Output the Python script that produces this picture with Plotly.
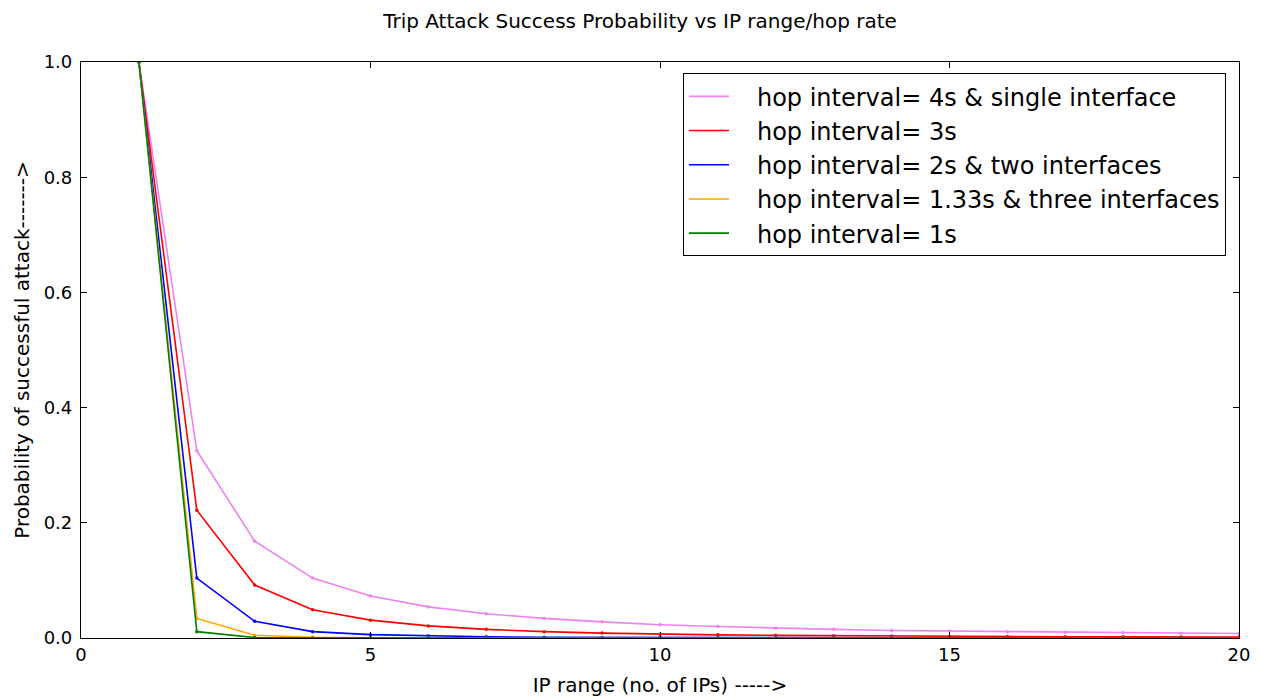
import plotly.graph_objects as go

ip_range = list(range(1, 21))

series_names = [
    "hop interval= 4s & single interface",
    "hop interval= 3s",
    "hop interval= 2s & two interfaces",
    "hop interval= 1.33s & three interfaces",
    "hop interval= 1s",
]
series_colors = ["#EE82EE", "#FF0000", "#0000FF", "#FFA500", "#008000"]

prob_4s = [1.0, 0.325, 0.168, 0.104, 0.073, 0.054, 0.042, 0.034, 0.028, 0.023,
           0.020, 0.017, 0.015, 0.013, 0.012, 0.011, 0.0098, 0.0090, 0.0083, 0.0077]
prob_3s = [1.0, 0.222, 0.092, 0.049, 0.031, 0.021, 0.015, 0.011, 0.0085, 0.0067,
           0.0055, 0.0046, 0.0039, 0.0033, 0.0029, 0.0026, 0.0023, 0.0020, 0.0018, 0.0016]
prob_2s = [1.0, 0.104, 0.029, 0.011, 0.0058, 0.0033, 0.0021, 0.0014, 0.0010, 0.0007,
           0.0005, 0.0004, 0.0003, 0.0003, 0.0002, 0.0002, 0.0001, 0.0001, 0.0001, 0.0001]
prob_133s = [1.0, 0.034, 0.0048, 0.0012, 0.0004, 0.00015, 0.0001, 0.0, 0.0, 0.0,
             0.0, 0.0, 0.0, 0.0, 0.0, 0.0, 0.0, 0.0, 0.0, 0.0]
prob_1s = [1.0, 0.011, 0.0008, 0.0001, 0.0, 0.0, 0.0, 0.0, 0.0, 0.0,
           0.0, 0.0, 0.0, 0.0, 0.0, 0.0, 0.0, 0.0, 0.0, 0.0]

all_series = [prob_4s, prob_3s, prob_2s, prob_133s, prob_1s]

x_ticks = [0, 5, 10, 15, 20]
y_ticks = [0.0, 0.2, 0.4, 0.6, 0.8, 1.0]
y_tick_labels = ["0.0", "0.2", "0.4", "0.6", "0.8", "1.0"]

FONT = "DejaVu Sans"
NB = "\u00a0"

fig = go.Figure()
for name, color, ys in zip(series_names, series_colors, all_series):
    fig.add_trace(go.Scatter(
        x=ip_range, y=ys, mode="lines+markers", name=name,
        line=dict(color=color, width=1.6),
        marker=dict(color=color, size=3.5),
        showlegend=False,
    ))
for i, (name, color) in enumerate(zip(series_names, series_colors)):
    fig.add_trace(go.Scatter(
        x=[None], y=[None], mode="lines", name=NB * 3 + name,
        line=dict(color=color, width=1.6),
        legendgroup=f"g{i}", showlegend=True,
    ))

fig.update_layout(
    width=1253, height=690,
    margin=dict(l=73, r=22, t=54, b=60),
    paper_bgcolor="white", plot_bgcolor="white",
    font=dict(family=FONT, color="black", size=18),
    title=dict(text="Trip Attack Success Probability vs IP range/hop rate",
               x=0.5044, xref="container", xanchor="center",
               y=1 - 6 / 690, yref="container", yanchor="top",
               pad=dict(t=0, b=0),
               font=dict(size=20, family=FONT)),
    legend=dict(x=0.9888, xanchor="right", y=0.9805, yanchor="top",
                bordercolor="black", borderwidth=1, bgcolor="white",
                font=dict(size=24, family=FONT), traceorder="grouped",
                tracegroupgap=0, itemwidth=40),
    showlegend=True,
)
fig.update_xaxes(range=[0, 20], tickvals=x_ticks, ticks="inside", ticklen=6,
                 tickcolor="black", showline=True, linecolor="black", linewidth=1.2,
                 mirror="ticks", showgrid=False, zeroline=False, automargin=False,
                 title=dict(text="IP range (no. of IPs) ----->", font=dict(size=20), standoff=14),
                 tickfont=dict(size=18))
fig.update_yaxes(range=[0, 1], tickvals=y_ticks, ticktext=y_tick_labels, ticks="inside",
                 ticklen=6, tickcolor="black", showline=True, linecolor="black", linewidth=1.2,
                 mirror="ticks", showgrid=False, zeroline=False, automargin=False,
                 ticklabelstandoff=4,
                 title=dict(text="Probability of successful attack------->", font=dict(size=20), standoff=8),
                 tickfont=dict(size=18))

fig.write_html("out.html")
